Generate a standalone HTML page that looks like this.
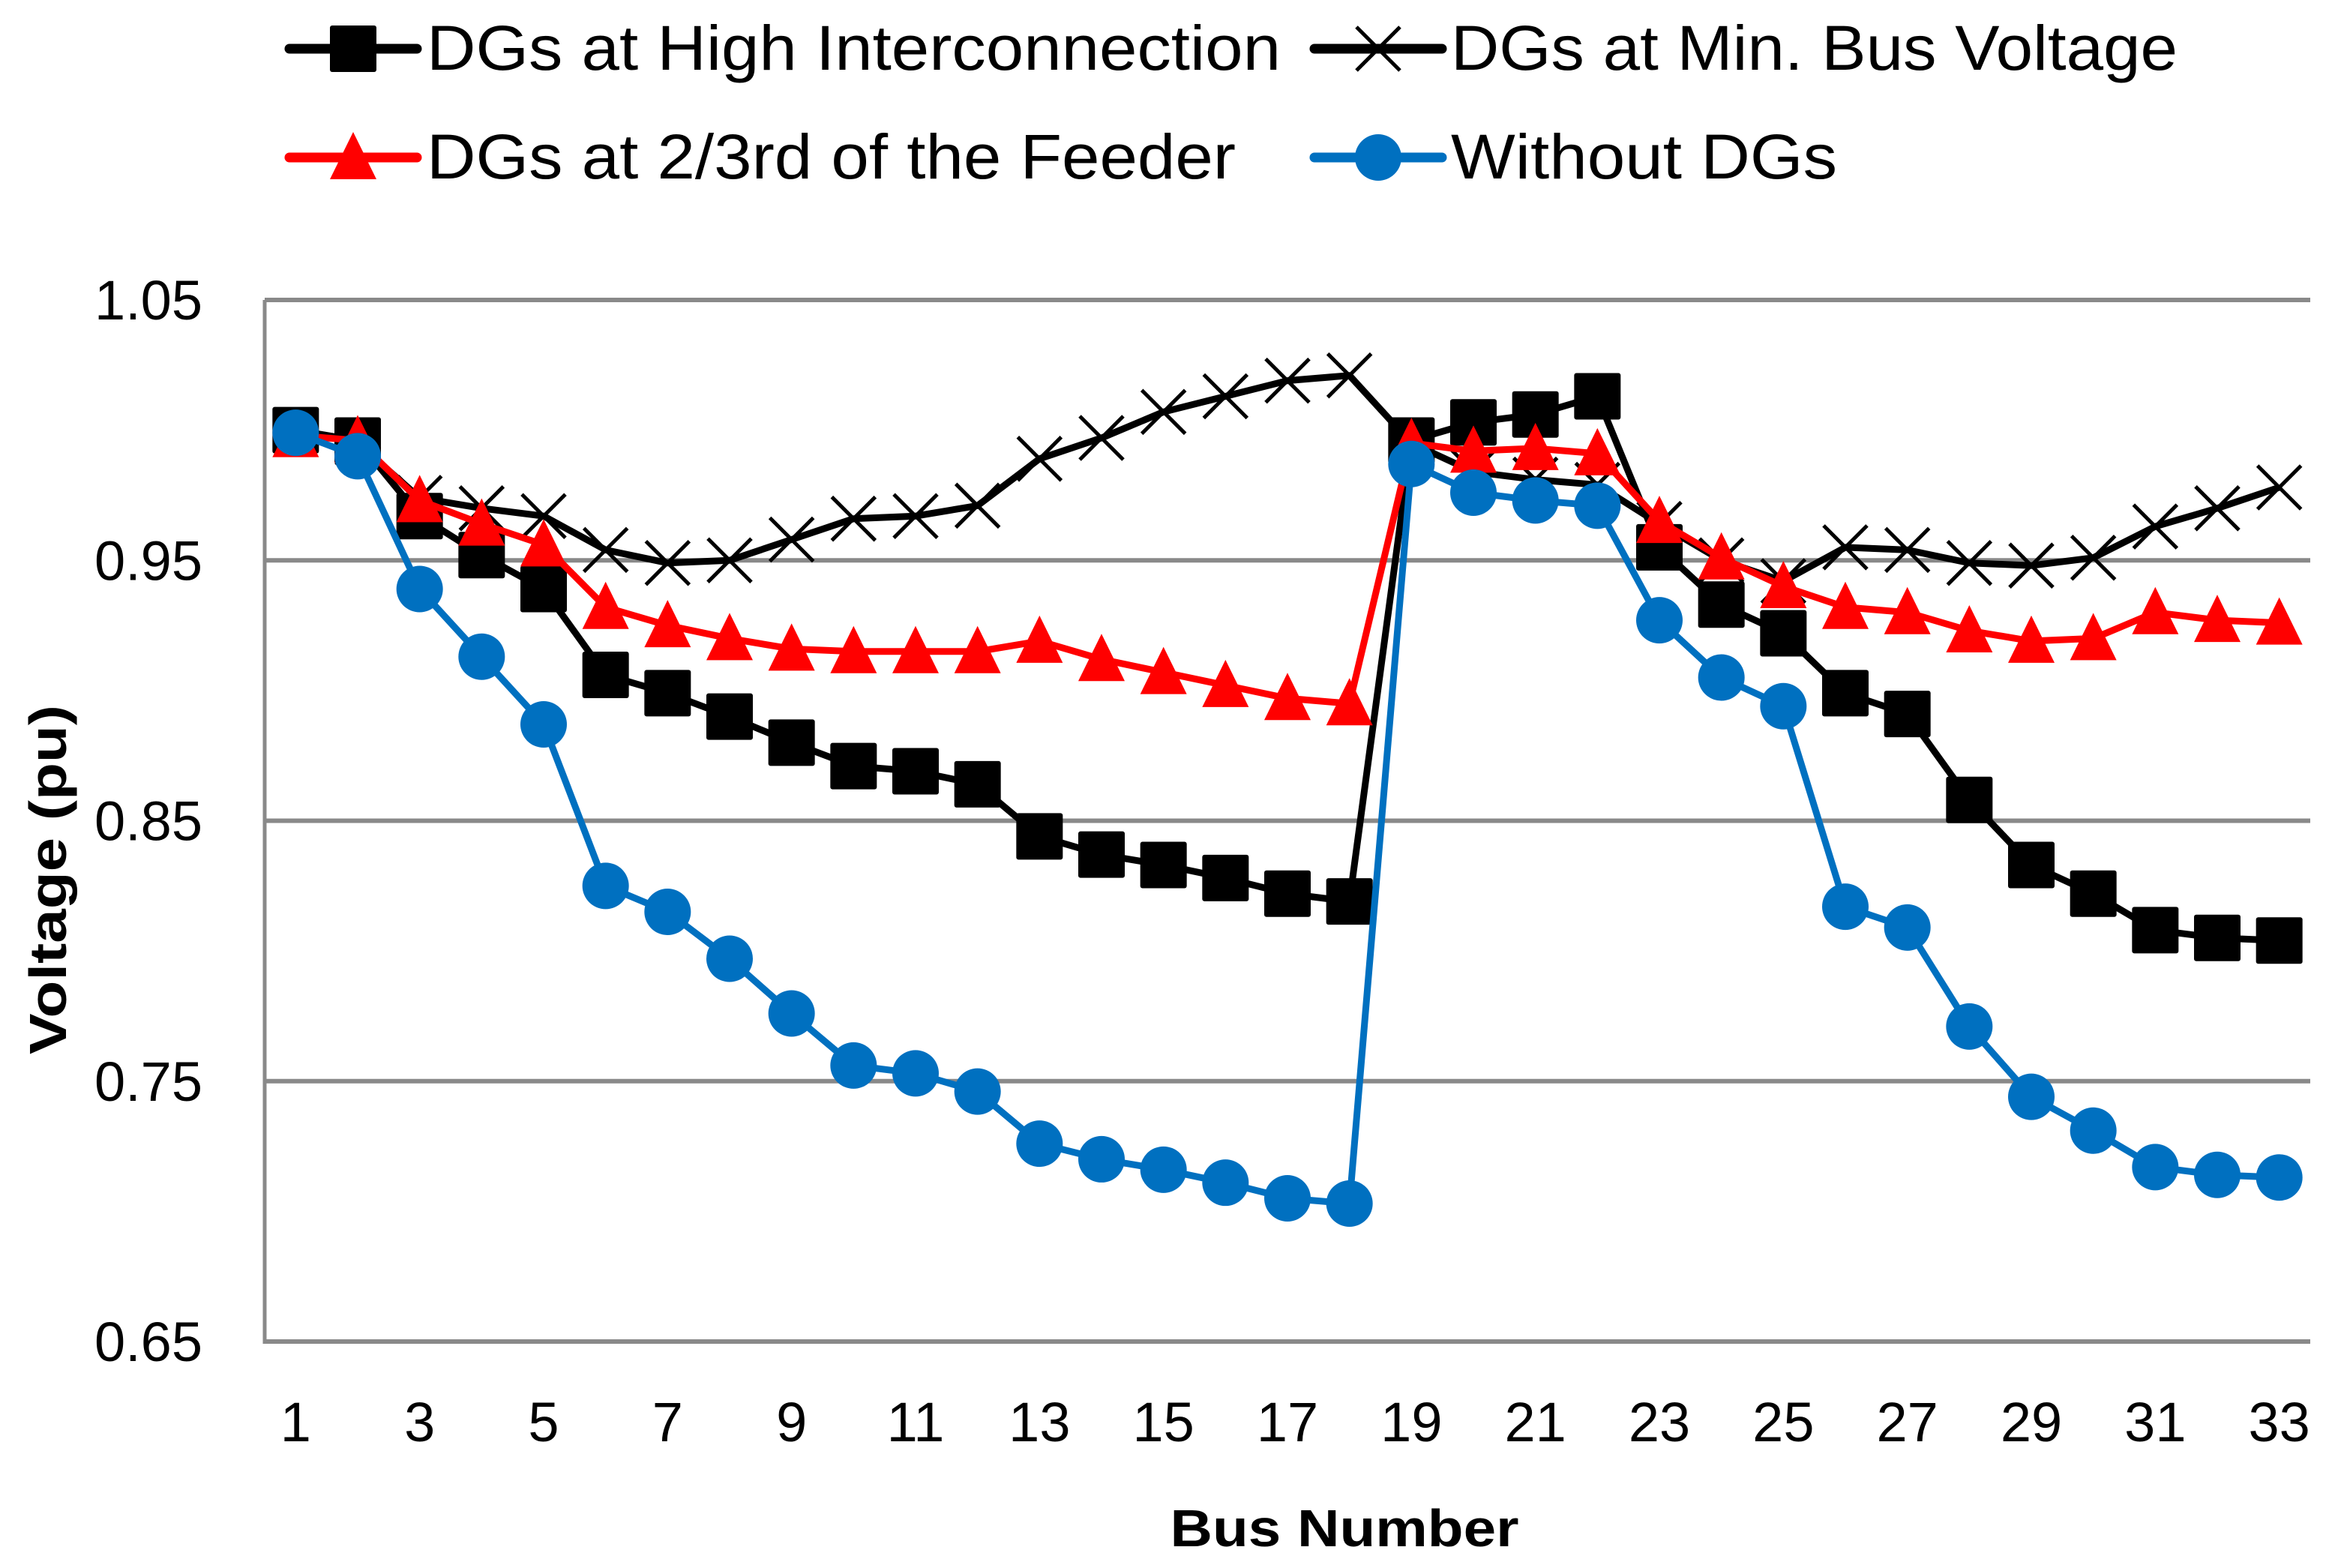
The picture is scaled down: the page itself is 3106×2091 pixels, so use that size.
<!DOCTYPE html>
<html><head><meta charset="utf-8"><style>
html,body{margin:0;padding:0;background:#fff;}
svg{display:block;font-family:"Liberation Sans",sans-serif;}
</style></head><body>
<svg id="chart" width="3106" height="2091" viewBox="0 0 3106 2091" xmlns="http://www.w3.org/2000/svg">
<g id="grid"></g>
<g id="yticks"></g>
<g id="xticks"></g>
<g id="series"></g>
<text x="1793" y="2062" font-size="70" font-weight="bold" text-anchor="middle" textLength="465" lengthAdjust="spacingAndGlyphs">Bus Number</text>
<text transform="translate(88,1173) rotate(-90)" font-size="70" font-weight="bold" text-anchor="middle" textLength="466" lengthAdjust="spacingAndGlyphs">Voltage (pu)</text>
<g id="legend"></g>
</svg>
<script>
const buses = [1,2,3,4,5,6,7,8,9,10,11,12,13,14,15,16,17,18,19,20,21,22,23,24,25,26,27,28,29,30,31,32,33];
const yTicks = [0.65,0.75,0.85,0.95,1.05];
const yTickLabels = ["0.65","0.75","0.85","0.95","1.05"];
const xTickLabels = ["1","3","5","7","9","11","13","15","17","19","21","23","25","27","29","31","33"];
const highInterconnection = [1.0,0.996,0.967,0.952,0.939,0.906,0.899,0.890,0.880,0.871,0.869,0.864,0.844,0.837,0.833,0.828,0.822,0.819,0.996,1.003,1.006,1.013,0.955,0.933,0.922,0.899,0.891,0.858,0.833,0.822,0.808,0.805,0.804];
const minBusVoltage = [1.0,0.995,0.974,0.970,0.967,0.954,0.949,0.950,0.958,0.966,0.967,0.971,0.989,0.997,1.007,1.013,1.019,1.021,0.995,0.984,0.981,0.979,0.964,0.950,0.942,0.955,0.954,0.949,0.948,0.951,0.963,0.970,0.978];
const twoThirdFeeder = [0.998,0.996,0.973,0.964,0.956,0.932,0.925,0.920,0.916,0.915,0.915,0.915,0.919,0.912,0.907,0.902,0.897,0.895,0.995,0.992,0.993,0.991,0.965,0.951,0.940,0.932,0.930,0.923,0.919,0.920,0.930,0.927,0.926];
const withoutDGs = [0.999,0.990,0.939,0.913,0.887,0.825,0.815,0.797,0.776,0.756,0.753,0.746,0.726,0.720,0.716,0.711,0.705,0.703,0.987,0.976,0.973,0.971,0.927,0.905,0.894,0.817,0.809,0.771,0.744,0.731,0.717,0.714,0.713];

const NS="http://www.w3.org/2000/svg";
const L=353,R=3081,T=400,B=1789,YMIN=0.65,YMAX=1.05;
const bw=(R-L)/buses.length;
function xs(b){return L+bw*(b-0.5);}
function ys(v){return B-(v-YMIN)/(YMAX-YMIN)*(B-T);}
function mk(tag,attrs,parent){const e=document.createElementNS(NS,tag);for(const k in attrs)e.setAttribute(k,attrs[k]);parent.appendChild(e);return e;}
const grid=document.getElementById('grid');
yTicks.forEach((t,i)=>{
  const g=mk('line',{x1:L,x2:R,y1:ys(t),y2:ys(t),stroke:'#898989','stroke-width':6},grid);
  
  
  const tx=mk('text',{x:270,y:ys(t)+26,'font-size':74,'text-anchor':'end'},document.getElementById('yticks'));
  tx.textContent=yTickLabels[i];
  
  
});
const ax=mk('line',{x1:L,x2:L,y1:T,y2:B+3,stroke:'#898989','stroke-width':5},grid);


xTickLabels.forEach(lbl=>{
  const tx=mk('text',{x:xs(+lbl),y:1922,'font-size':74,'text-anchor':'middle'},document.getElementById('xticks'));
  tx.textContent=lbl;
  
  
});
function marker(type,cx,cy,color,parent){
  let e;
  if(type==='square'){e=mk('rect',{x:cx-31,y:cy-31,width:62,height:62,rx:3,fill:color},parent);}
  else if(type==='tri'){e=mk('polygon',{points:`${cx},${cy-34} ${cx+31},${cy+29} ${cx-31},${cy+29}`,fill:color},parent);}
  else if(type==='circle'){e=mk('circle',{cx:cx,cy:cy,r:31,fill:color},parent);}
  else {e=mk('path',{d:`M${cx-29},${cy-29}L${cx+29},${cy+29}M${cx+29},${cy-29}L${cx-29},${cy+29}`,stroke:color,'stroke-width':5,fill:'none'},parent);}
  return e;
}
const seriesDefs=[
  {name:'min-bus-voltage',data:minBusVoltage,color:'#000000',m:'x'},
  {name:'high-interconnection',data:highInterconnection,color:'#000000',m:'square'},
  {name:'two-third-feeder',data:twoThirdFeeder,color:'#FF0000',m:'tri'},
  {name:'without-dgs',data:withoutDGs,color:'#0070C0',m:'circle'}
];
const sg=document.getElementById('series');
seriesDefs.forEach(s=>{
  const g=mk('g',{},sg);
  
  
  const pts=s.data.map((v,i)=>xs(buses[i])+','+ys(v)).join(' ');
  const pl=mk('polyline',{points:pts,fill:'none',stroke:s.color,'stroke-width':9,'stroke-linejoin':'round'},g);
  
  
  s.data.forEach((v,i)=>{
    const m=marker(s.m,xs(buses[i]),ys(v),s.color,g);
    
    
  });
});
const lg=document.getElementById('legend');
const legendItems=[
  {label:'DGs at High Interconnection',m:'square',color:'#000000',lx:386,ty:65,tx:569,w:1139},
  {label:'DGs at Min. Bus Voltage',m:'x',color:'#000000',lx:1753,ty:65,tx:1935,w:969},
  {label:'DGs at 2/3rd of the Feeder',m:'tri',color:'#FF0000',lx:386,ty:210,tx:569,w:1079},
  {label:'Without DGs',m:'circle',color:'#0070C0',lx:1753,ty:210,tx:1935,w:515}
];
legendItems.forEach(it=>{
  const g=mk('g',{},lg);
  
  
  mk('line',{x1:it.lx,x2:it.lx+170,y1:it.ty,y2:it.ty,stroke:it.color,'stroke-width':13,'stroke-linecap':'round'},g);
  marker(it.m,it.lx+85,it.ty,it.color,g);
  const t=mk('text',{x:it.tx,y:it.ty+28,'font-size':84,textLength:it.w,lengthAdjust:'spacingAndGlyphs'},g);
  t.textContent=it.label;
});
</script>
</body></html>
